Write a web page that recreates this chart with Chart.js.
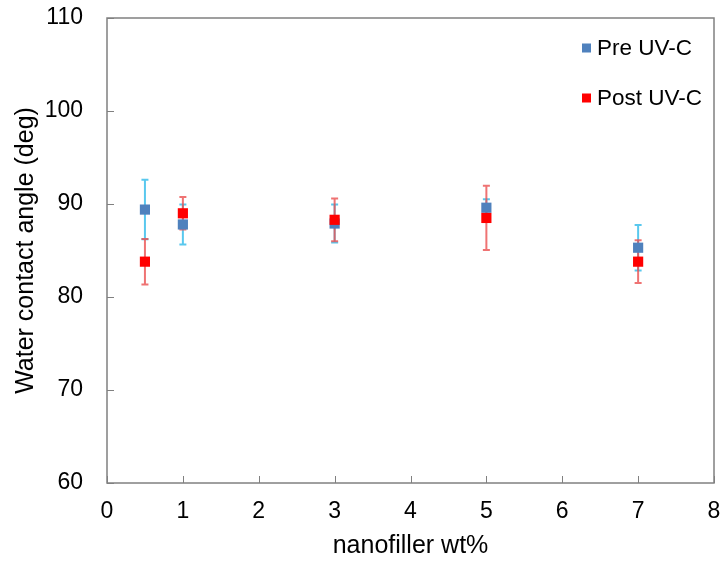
<!DOCTYPE html>
<html>
<head>
<meta charset="utf-8">
<script src="https://cdn.jsdelivr.net/npm/chart.js@4.4.1/dist/chart.umd.min.js"></script>
<style>
  html, body { margin: 0; padding: 0; background: #ffffff; }
  #wrap { width: 724px; height: 561px; }
</style>
</head>
<body>
<div id="wrap"><canvas id="c" width="724" height="561"></canvas></div>
<script>
// Water contact angle vs. nanofiller loading, before and after UV-C exposure
const loadings = [0.5, 1, 3, 5, 7];
const preMeans = [89.4, 87.8, 87.9, 89.6, 85.3];
const preErrors = [3.2, 2.15, 2.05, 0.9, 2.45];
const postMeans = [83.8, 89.0, 88.3, 88.5, 83.8];
const postErrors = [2.45, 1.75, 2.3, 3.45, 2.3];
const seriesNames = ['Pre UV-C', 'Post UV-C'];
const xTickValues = [0, 1, 2, 3, 4, 5, 6, 7, 8];
const yTickValues = [60, 70, 80, 90, 100, 110];

const FONT = '"Liberation Sans", Arial, sans-serif';
const AXIS_GRAY = '#808080';

const toPoints = (means, errs) => loadings.map((x, i) => ({ x: x, y: means[i], err: errs[i] }));

// Keep the plot area fixed: no extra room reserved for overhanging tick labels
const noOverhang = (s) => {
  s.paddingTop = 0; s.paddingBottom = 0; s.paddingLeft = 0; s.paddingRight = 0;
};

// Vertical error bars with caps, drawn beneath the markers
const errorBars = {
  id: 'errorBars',
  beforeDatasetsDraw(chart) {
    const ctx = chart.ctx;
    const xs = chart.scales.x, ys = chart.scales.y;
    chart.data.datasets.forEach((ds) => {
      ctx.save();
      ctx.strokeStyle = ds.errorColor;
      ctx.lineWidth = 2;
      ds.data.forEach((p) => {
        const px = xs.getPixelForValue(p.x);
        const top = ys.getPixelForValue(p.y + p.err);
        const bot = ys.getPixelForValue(p.y - p.err);
        ctx.beginPath();
        ctx.moveTo(px, top); ctx.lineTo(px, bot);
        ctx.moveTo(px - 3.5, top); ctx.lineTo(px + 3.5, top);
        ctx.moveTo(px - 3.5, bot); ctx.lineTo(px + 3.5, bot);
        ctx.stroke();
      });
      ctx.restore();
    });
  }
};

// Plot frame and inward tick marks
const frame = {
  id: 'frame',
  afterDraw(chart) {
    const ctx = chart.ctx;
    const a = chart.chartArea;
    const xs = chart.scales.x, ys = chart.scales.y;
    ctx.save();
    ctx.strokeStyle = AXIS_GRAY;
    ctx.lineWidth = 1.5;
    ctx.strokeRect(a.left, a.top, a.right - a.left, a.bottom - a.top);
    ctx.beginPath();
    xs.ticks.forEach((t) => {
      const px = Math.round(xs.getPixelForValue(t.value)) + 0.5;
      ctx.moveTo(px, a.bottom); ctx.lineTo(px, a.bottom - 7);
    });
    ys.ticks.forEach((t) => {
      const py = Math.round(ys.getPixelForValue(t.value)) + 0.5;
      ctx.moveTo(a.left, py); ctx.lineTo(a.left + 7, py);
    });
    ctx.lineWidth = 1;
    ctx.stroke();
    ctx.restore();
  }
};

// Legend placed inside the plot, upper right
const insideLegend = {
  id: 'insideLegend',
  afterDraw(chart) {
    const ctx = chart.ctx;
    const a = chart.chartArea;
    ctx.save();
    ctx.font = '22.5px ' + FONT;
    ctx.textBaseline = 'middle';
    ctx.textAlign = 'left';
    chart.data.datasets.forEach((ds, i) => {
      const y = a.top + 30 + i * 50;
      const x = a.right - 132;
      ctx.fillStyle = ds.backgroundColor;
      ctx.fillRect(x, y - 4.5, 9, 9);
      ctx.fillStyle = '#000000';
      ctx.fillText(ds.label, x + 15, y + 1);
    });
    ctx.restore();
  }
};

new Chart(document.getElementById('c'), {
  type: 'scatter',
  data: {
    datasets: [
      {
        label: seriesNames[0],
        data: toPoints(preMeans, preErrors),
        backgroundColor: '#4F81BD',
        borderColor: '#4F81BD',
        errorColor: 'rgba(60,190,235,0.85)',
        pointStyle: 'rect',
        pointRadius: 7.2,
        pointHoverRadius: 7.2,
        borderWidth: 0,
        order: 1
      },
      {
        label: seriesNames[1],
        data: toPoints(postMeans, postErrors),
        backgroundColor: '#FF0000',
        borderColor: '#FF0000',
        errorColor: 'rgba(235,80,80,0.8)',
        pointStyle: 'rect',
        pointRadius: 7.2,
        pointHoverRadius: 7.2,
        borderWidth: 0,
        order: 0
      }
    ]
  },
  options: {
    responsive: false,
    animation: false,
    events: [],
    layout: { padding: { left: 0, top: 18, right: 10, bottom: 0 } },
    plugins: {
      legend: { display: false },
      tooltip: { enabled: false }
    },
    scales: {
      x: {
        type: 'linear',
        min: 0, max: 8,
        afterFit(s) { s.height = 78; noOverhang(s); },
        afterBuildTicks(s) { s.ticks = xTickValues.map(v => ({ value: v })); },
        grid: { display: false, drawTicks: false },
        border: { display: false },
        ticks: { color: '#000000', font: { family: FONT, size: 23 }, padding: 15 },
        title: {
          display: true, text: 'nanofiller wt%', color: '#000000',
          font: { family: FONT, size: 25 }, padding: { top: 0, bottom: 0 }
        }
      },
      y: {
        type: 'linear',
        min: 60, max: 110,
        afterFit(s) { s.width = 107; noOverhang(s); },
        afterBuildTicks(s) { s.ticks = yTickValues.map(v => ({ value: v })); },
        grid: { display: false, drawTicks: false },
        border: { display: false },
        ticks: { color: '#000000', font: { family: FONT, size: 23 }, padding: 24 },
        title: {
          display: true, text: 'Water contact angle (deg)', color: '#000000',
          font: { family: FONT, size: 25 }, padding: { top: 11, bottom: 0 }
        }
      }
    }
  },
  plugins: [errorBars, frame, insideLegend]
});
</script>
</body>
</html>
